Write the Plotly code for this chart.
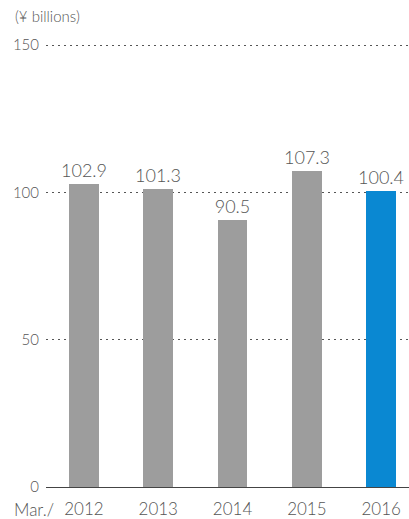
import plotly.graph_objects as go

# Net sales by fiscal year (¥ billions)
years = ["2012", "2013", "2014", "2015", "2016"]
values = [102.9, 101.3, 90.5, 107.3, 100.4]
bar_colors = ["#9d9d9d", "#9d9d9d", "#9d9d9d", "#9d9d9d", "#0a88d2"]
y_ticks = [0, 50, 100, 150]

FONT = "Lato"
TEXT = "#555555"

fig = go.Figure()
fig.add_trace(go.Bar(
    x=list(range(len(years))),
    y=values,
    width=0.40,
    marker=dict(color=bar_colors, line=dict(width=0)),
    text=[f"{v:.1f}" for v in values],
    textposition="outside",
    constraintext="none",
    textfont=dict(family=FONT, size=18, color=TEXT, weight=300),
    cliponaxis=False,
))

fig.update_layout(
    width=409, height=519,
    margin=dict(l=46, r=0, t=44, b=29),
    paper_bgcolor="white", plot_bgcolor="white",
    showlegend=False,
    bargap=0,
    xaxis=dict(
        range=[-0.511, 4.375],
        tickmode="array",
        tickvals=list(range(len(years))),
        ticktext=years,
        tickfont=dict(family=FONT, size=17, color=TEXT, weight=300),
        showgrid=False, zeroline=False, showline=False, ticks="",
        ticklabelstandoff=10,
        fixedrange=True,
    ),
    yaxis=dict(
        range=[0, 150.4],
        tickmode="array",
        tickvals=y_ticks,
        tickfont=dict(family=FONT, size=15, color=TEXT, weight=300),
        showgrid=True, gridcolor="#555555", gridwidth=1, griddash="1.5px,4.5px",
        zeroline=True, zerolinecolor="#444444", zerolinewidth=1,
        showline=False, ticks="", ticklabelstandoff=6,
        fixedrange=True,
    ),
    annotations=[
        dict(text="(¥ billions)", xref="paper", yref="paper", x=0, y=1,
             xanchor="left", yanchor="bottom", xshift=-33, yshift=17,
             showarrow=False, font=dict(family=FONT, size=15, color=TEXT, weight=300)),
        dict(text="Mar./", xref="paper", yref="paper", x=0, y=0,
             xanchor="right", yanchor="top", xshift=10, yshift=-10,
             showarrow=False, font=dict(family=FONT, size=17, color=TEXT, weight=300)),
    ],
)

fig.write_html("out.html")
